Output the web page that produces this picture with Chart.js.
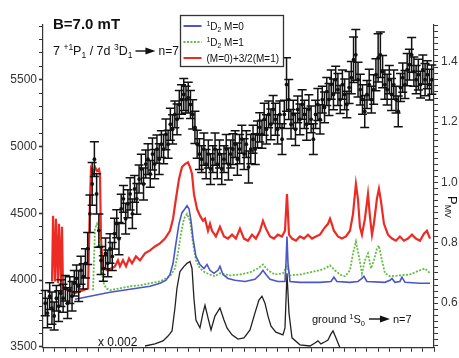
<!DOCTYPE html>
<html lang="en">
<head>
  <meta charset="UTF-8">
  <title>B=7.0 mT spectrum</title>
  <style>
    body { margin: 0; background: #fff; }
    canvas { display: block; }
  </style>
</head>
<body>
  <canvas id="chart" width="459" height="358"></canvas>

  <script src="https://cdn.jsdelivr.net/npm/chart.js"></script>
  <script>
    const FONT = '"Liberation Sans", Arial, Helvetica, sans-serif';

    // ion counts with error bars (left axis)
    const scanPos = [
      2,4,6,8,10,12,14,16, 18,20,22,24,26,28, 30,32,34,36,38, 40,42,44,46,48,50,
      52,54,56,58,60,62, 64,66,68,70,72,74,76,78,80,82,84,86,
      88,90,92,94,96,98,100,102,104,106,108,
      110,112,114,116,118,120,122,124,126,128,130,132,134,136,
      138,140,142,144,146,148,150,152,154,156,158,160,162,164,166,168,
      170,172,174,176,178,180,182,184,186,188,190,192,194,
      196,198,200,202,204,206,208,210,212,214,216, 218,220,
      222,224,226,228,230,232,234,236,238,240,242,244,246,248,250,252,
      254,256,258,260,262,264,266,268,270,272,274,
      276,278,280,282,284, 286,288,290,292,294,296,298, 300,302,304,306,
      308,310,312,314,316,318,320,
      322,324,326,328,330,332,334,336,338,340,342,344,346,348
    ];
    const counts = [
      3827,3753,3879,3790,3731,3864,3805,3902, 3864,3939,3827,3924,3879,3976,
      4013,3954,4073,4028,4125, 4236,4496,4719,4905,4645,4370,
      4147,4087,4199,4125,4236,4177,
      4348,4422,4310,4533,4608,4459,4571,4645,4496,4682,4608,4756,
      4831,4719,4868,4905,4794,4943,4868,4980,4905,5017,4980,
      5091,5017,5166,5128,5240,5203,5314,5351,5389,5351,5366,5314,5240,5143,
      5017,4943,4905,4980,4868,4943,4831,4905,4980,4868,4943,4831,4905,4980,4868,4943,
      4980,5017,4905,4980,5054,4943,5017,4846,4980,5054,4980,5091,5143,
      5091,5203,5128,5240,5166,5277,5203,5128,5240,5054,5240, 5463,5351,
      5166,5240,5128,5277,5203,5314,5240,5166,5277,5203,5054,5240,5314,5203,5351,5292,
      5411,5351,5463,5389,5500,5426,5351,5463,5389,5314,5441,
      5515,5649,5686,5500,5426, 5351,5262,5389,5463,5351,5426,5537, 5663,5686,5560,5463,
      5426,5500,5389,5463,5351,5262,5441,
      5515,5463,5575,5612,5686,5560,5500,5537,5463,5575,5500,5537,5463,5500
    ];
    const countErr = [
      95,110,100,120,105,95,115,100, 105,95,115,100,110,95, 100,115,105,95,110,
      120,140,160,130,150,125, 105,95,115,100,110,105,
      115,105,120,110,100,115,105,120,110,100,115,105,
      110,120,105,115,100,120,110,105,115,100,110,
      115,105,120,110,100,115,105,110,120,100,115,105,110,120,
      105,115,100,120,110,105,115,100,120,110,105,115,100,110,120,105,
      115,100,120,110,105,115,100,120,110,105,115,100,110,
      105,120,110,100,115,105,120,110,100,115,105, 200,150,
      110,105,120,100,115,110,105,120,110,100,115,105,120,110,100,115,
      105,120,110,115,100,120,105,110,115,100,120,
      120,170,190,130,115, 110,120,105,115,100,110,120, 180,170,120,110,
      115,105,120,110,100,115,105,
      110,105,120,115,130,110,105,115,100,110,120,105,115,110
    ];

    // 1D2 M=0 (right axis)
    const m0X = [28.6,42.1,60.0,77.9,95.8,104.7,110.1,113.7,116.4,119.0,121.7,124.4,127.1,128.9,
      130.7,132.5,134.3,136.9,140.5,144.1,146.8,149.5,153.0,156.6,158.4,161.1,165.6,171.8,180.8,
      189.7,194.2,196.9,199.6,203.2,210.3,216.6,217.5,218.4,219.3,221.1,230.0,247.9,257.8,260.4,
      263.1,274.8,281.9,285.5,287.3,289.9,306.1,310.6,312.4,315.0,319.5,321.3,324.0,337.4,346.4];
    const m0Y = [0.613,0.623,0.636,0.646,0.656,0.666,0.676,0.695,0.732,0.798,0.863,0.900,0.913,0.923,
      0.913,0.873,0.814,0.755,0.728,0.715,0.728,0.709,0.699,0.709,0.722,0.695,0.682,0.676,0.672,
      0.679,0.695,0.709,0.695,0.679,0.672,0.672,0.732,0.821,0.732,0.672,0.669,0.669,0.672,0.686,
      0.672,0.669,0.672,0.682,0.689,0.672,0.669,0.676,0.682,0.669,0.672,0.686,0.669,0.666,0.666];

    // 1D2 M=1 (right axis)
    const m1X = [44.8,46.5,48.3,50.1,51.9,53.7,56.4,60.0,68.9,77.9,86.8,95.8,104.7,113.7,118.1,
      120.8,123.5,126.2,128.9,131.6,134.3,136.9,140.5,145.0,149.5,153.9,158.4,167.4,176.3,185.3,
      192.4,196.9,201.4,207.6,214.8,218.4,221.1,230.0,239.0,247.9,252.4,256.9,261.3,265.8,270.3,
      274.8,277.5,280.1,282.8,285.5,288.2,290.9,293.6,296.2,298.9,300.7,303.4,306.1,310.6,319.5,
      328.5,337.4,341.9,346.4];
    const m1Y = [0.643,0.847,0.863,0.840,0.748,0.672,0.649,0.643,0.649,0.656,0.659,0.666,0.672,0.689,0.715,
      0.765,0.830,0.880,0.896,0.873,0.798,0.742,0.715,0.702,0.695,0.689,0.699,0.692,0.695,0.702,
      0.715,0.728,0.709,0.695,0.699,0.722,0.692,0.695,0.702,0.709,0.715,0.725,0.709,0.695,0.689,
      0.709,0.765,0.804,0.755,0.699,0.742,0.765,0.715,0.742,0.781,0.791,0.742,0.699,0.689,0.692,
      0.695,0.709,0.715,0.699];

    // (M=0)+3/2(M=1) (right axis)
    const sumX = [8.1,9.0,10.7,11.6,13.4,14.3,16.1,17.0,17.9,28.6,40.3,42.1,43.0,44.8,46.5,48.3,50.1,
      51.0,51.9,53.7,58.2,64.4,67.1,68.9,71.6,74.3,77.0,79.7,83.2,86.8,91.3,95.8,100.2,104.7,109.2,
      113.7,116.4,119.0,121.7,124.4,127.1,129.8,131.6,133.4,135.1,137.8,140.5,143.2,145.0,147.7,
      149.5,151.3,154.8,158.4,162.0,165.6,169.2,172.7,176.3,179.9,183.5,187.1,190.6,194.2,196.9,
      199.6,203.2,206.7,210.3,213.9,216.6,218.4,220.2,222.9,226.4,230.0,233.6,237.2,240.8,244.3,
      247.9,251.5,255.1,256.9,258.7,260.4,264.0,267.6,271.2,274.8,277.5,280.1,281.9,283.7,285.5,
      288.2,290.9,292.7,294.5,296.2,298.9,300.7,302.5,305.2,308.8,312.4,315.9,319.5,323.1,326.7,
      330.3,333.8,337.4,341.0,343.7,346.4];
    const sumY = [0.672,0.890,0.672,0.880,0.666,0.863,0.672,0.853,0.649,0.633,0.649,0.946,1.044,1.028,1.051,1.038,1.044,
      1.028,0.814,0.715,0.709,0.722,0.742,0.722,0.742,0.722,0.748,0.732,0.755,0.742,0.765,0.775,0.788,0.798,0.814,
      0.840,0.880,0.946,1.011,1.051,1.061,1.067,1.051,1.028,0.962,0.913,0.890,0.873,0.880,0.840,
      0.863,0.840,0.821,0.853,0.821,0.814,0.827,0.814,0.847,0.814,0.807,0.827,0.814,0.840,0.873,
      0.847,0.821,0.814,0.827,0.821,0.840,0.962,0.827,0.814,0.807,0.821,0.814,0.827,0.814,0.821,
      0.827,0.847,0.863,0.880,0.860,0.840,0.821,0.814,0.821,0.840,0.896,0.995,0.946,0.853,0.827,
      0.880,0.962,0.886,0.827,0.863,0.946,0.979,0.939,0.863,0.827,0.814,0.807,0.821,0.807,0.814,
      0.827,0.814,0.807,0.830,0.840,0.814];

    // ground 1S0 -> n=7, scaled x 0.002 (right axis)
    const groundX = [91.3,100.2,107.4,111.9,115.5,118.1,119.9,122.6,126.2,128.9,131.6,133.4,135.1,136.9,
      140.5,143.2,145.0,147.7,150.4,153.9,158.4,162.0,164.7,169.2,174.5,179.9,185.3,189.7,193.3,
      196.0,198.7,201.4,204.1,208.5,214.8,216.6,218.4,220.2,222.9,230.0,239.0,243.4,246.1,248.8,
      252.4,255.1,257.8,259.6,262.2,265.8];
    const groundY = [0.458,0.465,0.475,0.491,0.508,0.584,0.649,0.705,0.722,0.732,0.738,0.715,0.616,0.544,
      0.518,0.567,0.593,0.551,0.511,0.557,0.584,0.544,0.518,0.495,0.481,0.485,0.511,0.567,0.610,
      0.623,0.600,0.557,0.524,0.504,0.495,0.518,0.699,0.567,0.485,0.462,0.458,0.468,0.475,0.465,
      0.472,0.478,0.498,0.508,0.485,0.452];

    const pts = (xs, ys) => xs.map((x, i) => ({ x, y: ys[i] }));

    const RED = '#ec2b24', BLUE = '#4a56c9', GREEN = '#66bb44', INK = '#111', AXIS = '#333';

    // superscript / subscript aware text run
    function rich(ctx, parts, x, y, size) {
      parts.forEach(([t, pos]) => {
        const s = pos ? size * 0.68 : size;
        ctx.font = `${s}px ${FONT}`;
        const dy = pos === 'sup' ? -size * 0.4 : pos === 'sub' ? size * 0.24 : 0;
        ctx.fillText(t, x, y + dy);
        x += ctx.measureText(t).width;
      });
      return x;
    }

    function arrow(ctx, x, y, len) {
      ctx.save();
      ctx.strokeStyle = ctx.fillStyle;
      ctx.lineWidth = 1.4;
      ctx.beginPath();
      ctx.moveTo(x, y);
      ctx.lineTo(x + len - 8, y);
      ctx.stroke();
      ctx.beginPath();
      ctx.moveTo(x + len, y);
      ctx.lineTo(x + len - 10, y - 3.5);
      ctx.lineTo(x + len - 10, y + 3.5);
      ctx.closePath();
      ctx.fill();
      ctx.restore();
    }

    const errorBars = {
      id: 'errorBars',
      afterDatasetDraw(chart, args) {
        if (args.index !== 0) return;
        const { ctx, scales: { x, y } } = chart;
        ctx.save();
        ctx.strokeStyle = INK;
        ctx.lineWidth = 1.5;
        ctx.beginPath();
        scanPos.forEach((s, i) => {
          const px = x.getPixelForValue(s);
          const top = y.getPixelForValue(counts[i] + countErr[i]);
          const bot = y.getPixelForValue(counts[i] - countErr[i]);
          ctx.moveTo(px, top); ctx.lineTo(px, bot);
          ctx.moveTo(px - 4.5, top); ctx.lineTo(px + 4.5, top);
          ctx.moveTo(px - 4.5, bot); ctx.lineTo(px + 4.5, bot);
        });
        ctx.stroke();
        ctx.restore();
      }
    };

    const annotations = {
      id: 'annotations',
      afterDraw(chart) {
        const ctx = chart.ctx;
        ctx.save();
        ctx.fillStyle = '#111';
        ctx.textBaseline = 'alphabetic';
        ctx.textAlign = 'left';

        ctx.font = `bold 15px ${FONT}`;
        ctx.fillText('B=7.0 mT', 53, 29);

        let x = rich(ctx, [['7 ', null], ['+1', 'sup'], ['P', null], ['1', 'sub'],
          [' / 7d ', null], ['3', 'sup'], ['D', null], ['1', 'sub']], 53, 55, 12.5);
        arrow(ctx, x + 3, 51, 20);
        rich(ctx, [['n=7', null]], x + 26, 55, 12);

        // legend
        const lx = 180.5, ly = 15.5;
        ctx.fillStyle = '#fff';
        ctx.fillRect(lx, ly, 103, 51);
        ctx.strokeStyle = AXIS;
        ctx.lineWidth = 1.3;
        ctx.strokeRect(lx, ly, 103, 51);
        const rows = [
          { color: BLUE, dash: [], parts: [['1', 'sup'], ['D', null], ['2', 'sub'], [' M=0', null]] },
          { color: GREEN, dash: [2, 1.5], parts: [['1', 'sup'], ['D', null], ['2', 'sub'], [' M=1', null]] },
          { color: RED, dash: [], parts: [['(M=0)+3/2(M=1)', null]] }
        ];
        rows.forEach((r, i) => {
          const cy = 26 + i * 16;
          ctx.strokeStyle = r.color;
          ctx.lineWidth = 2;
          ctx.setLineDash(r.dash);
          ctx.beginPath();
          ctx.moveTo(lx + 3, cy);
          ctx.lineTo(lx + 21, cy);
          ctx.stroke();
          ctx.setLineDash([]);
          ctx.fillStyle = '#111';
          rich(ctx, r.parts, lx + 26, cy + 3.5, 10);
        });

        ctx.fillStyle = '#111';
        rich(ctx, [['x 0.002', null]], 98, 346, 12);

        x = rich(ctx, [['ground ', null], ['1', 'sup'], ['S', null], ['0', 'sub']], 312, 323, 11);
        arrow(ctx, x + 4, 319, 21);
        rich(ctx, [['n=7', null]], x + 28, 323, 11);

        // right axis title P_MV, reading downwards
        ctx.translate(448, 196);
        ctx.rotate(Math.PI / 2);
        rich(ctx, [['P', null], ['MV', 'sub']], 0, 0, 13);
        ctx.restore();
      }
    };

    new Chart(document.getElementById('chart'), {
      type: 'scatter',
      data: {
        datasets: [
          {
            label: 'counts',
            data: pts(scanPos, counts),
            yAxisID: 'y',
            pointRadius: 1.9,
            pointBackgroundColor: INK,
            pointBorderWidth: 0
          },
          {
            label: 'ground',
            data: pts(groundX, groundY),
            yAxisID: 'y1',
            showLine: true,
            pointRadius: 0,
            borderColor: '#222',
            borderWidth: 1.3
          },
          {
            label: '1D2 M=0',
            data: pts(m0X, m0Y),
            yAxisID: 'y1',
            showLine: true,
            pointRadius: 0,
            borderColor: BLUE,
            borderWidth: 1.6
          },
          {
            label: '1D2 M=1',
            data: pts(m1X, m1Y),
            yAxisID: 'y1',
            showLine: true,
            pointRadius: 0,
            borderColor: GREEN,
            borderWidth: 1.8,
            borderDash: [2, 1.5]
          },
          {
            label: '(M=0)+3/2(M=1)',
            data: pts(sumX, sumY),
            yAxisID: 'y1',
            showLine: true,
            pointRadius: 0,
            borderColor: RED,
            borderWidth: 2.2
          }
        ]
      },
      options: {
        responsive: false,
        animation: false,
        devicePixelRatio: 1,
        layout: { padding: { top: 25, left: 0, right: 0, bottom: 0 } },
        plugins: { legend: { display: false }, tooltip: { enabled: false } },
        scales: {
          x: {
            type: 'linear',
            min: 0,
            max: 350,
            ticks: { display: false, stepSize: 10, autoSkip: false },
            grid: { drawOnChartArea: false, drawTicks: true, tickLength: 4, color: AXIS },
            border: { color: AXIS, width: 1.2 },
            afterFit: s => { s.height = 8; }
          },
          y: {
            position: 'left',
            min: 3493,
            max: 5909,
            ticks: {
              stepSize: 100,
              autoSkip: false,
              includeBounds: false,
              padding: 2,
              color: '#333',
              font: { family: FONT, size: 12 },
              callback: v => (v % 500 === 0 ? v : '')
            },
            grid: { drawOnChartArea: false, tickLength: 4, color: AXIS,
              tickWidth: c => (c.tick && c.tick.value % 500 === 0 ? 1.6 : 1) },
            border: { color: AXIS, width: 1.2 },
            afterFit: s => { s.width = 43; }
          },
          y1: {
            position: 'right',
            min: 0.452,
            max: 1.522,
            ticks: {
              stepSize: 0.02,
              autoSkip: false,
              includeBounds: false,
              padding: 3,
              color: '#333',
              font: { family: FONT, size: 12 },
              callback: v => {
                const r = Math.round(v * 10);
                return Math.abs(v * 10 - r) < 1e-6 && r % 2 === 0 ? (r / 10).toFixed(1) : '';
              }
            },
            grid: { drawOnChartArea: false, tickLength: 4, color: AXIS },
            border: { color: AXIS, width: 1.2 },
            afterFit: s => { s.width = 25; }
          }
        }
      },
      plugins: [errorBars, annotations]
    });
  </script>
</body>
</html>
